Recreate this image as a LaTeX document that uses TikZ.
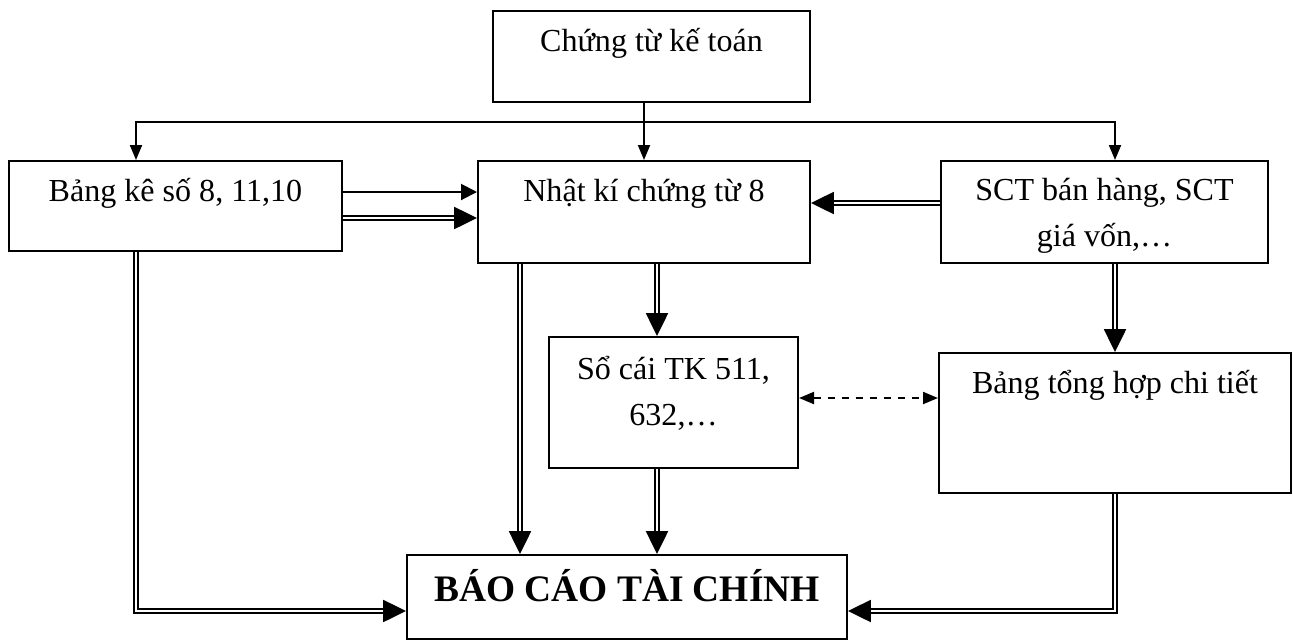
\documentclass[tikz,border=0pt]{standalone}
\usepackage{fontspec}
\setmainfont{Liberation Serif}
\usetikzlibrary{arrows.meta}
\newlength{\pxu}\setlength{\pxu}{0.025cm}

\begin{document}
\begin{tikzpicture}[x=0.025cm, y=-0.025cm,
  font=\fontsize{22.8pt}{32.5pt}\selectfont,
  block/.style={draw, line width=2\pxu, inner sep=0pt, anchor=north west, align=center, text height=40\pxu},
  arr/.style={line width=2\pxu, -{Triangle[length=0.375cm, width=0.3cm]}},
  arrs/.style={line width=2\pxu, -{Triangle[length=0.4cm, width=0.4cm]}},
  dbl/.style={double, line width=1.8\pxu, double distance=2.6\pxu, -{Triangle[length=0.57cm, width=0.55cm]}},
  dsh/.style={line width=2\pxu, dash pattern=on 5pt off 5pt, {Triangle[length=0.375cm, width=0.3cm]}-{Triangle[length=0.375cm, width=0.3cm]}}]

  \useasboundingbox (0,0) rectangle (1293,639);

  % Top
  \node[block, minimum width=317\pxu, text depth=51\pxu] (ct) at (492,10) {Chứng từ kế toán};

  % Second row
  \node[block, minimum width=333\pxu, text depth=50\pxu] (bk) at (8,160) {Bảng kê số 8, 11,10};
  \node[block, minimum width=332\pxu, text depth=62\pxu] (nk) at (477,160) {Nhật kí chứng từ 8};
  \node[block, minimum width=327\pxu, text height=85\pxu, text depth=17\pxu] (sct) at (940,160) {SCT bán hàng, SCT\\giá vốn,…};

  % Third row
  \node[block, minimum width=249\pxu, text height=88\pxu, text depth=43\pxu] (sc) at (548,336) {Sổ cái TK 511,\\632,…};
  \node[block, minimum width=352\pxu, text depth=100\pxu] (bth) at (938,352) {Bảng tổng hợp chi tiết};

  % Bottom
  \node[block, minimum width=440\pxu, text height=46\pxu, text depth=38\pxu, font=\fontsize{26.6pt}{32pt}\selectfont\bfseries] (bc) at (406,554) {BÁO CÁO TÀI CHÍNH};

  % Helper points
  \coordinate (br) at ([yshift=-19\pxu]ct.south);
  \coordinate (bl) at ([xshift=128\pxu]bk.north west);
  \coordinate (h1) at ([yshift=-32\pxu]bk.north east);
  \coordinate (h2) at ([yshift=-58\pxu]bk.north east);
  \coordinate (h3) at ([yshift=-43\pxu]sct.north west);
  \coordinate (v1) at ([xshift=43\pxu]nk.south west);
  \coordinate (v2) at ([xshift=13\pxu]nk.south);
  \coordinate (in) at ([yshift=-57\pxu]bc.north);
  \coordinate (d1) at ([yshift=-62\pxu]sc.north east);

  % Branches from the top box
  \draw[arr] (ct.south -| nk.north) -- (nk.north);
  \draw[arr] (br -| bth.north) -- (br -| bl) -- (bl);
  \draw[arr] (br -| bl) -- (br -| bth.north) -- (sct.north -| bth.north);

  % Horizontal arrows
  \draw[arrs] (h1) -- (h1 -| nk.west);
  \draw[dbl] (h2) -- (h2 -| nk.west);
  \draw[dbl] (h3) -- (h3 -| nk.east);

  % Vertical arrows
  \draw[dbl] (v1) -- (v1 |- bc.north);
  \draw[dbl] (v2) -- (v2 |- sc.north);
  \draw[dbl] (v2 |- sc.south) -- (v2 |- bc.north);
  \draw[dbl] (sct.south -| bth.north) -- (bth.north);

  % Into the report
  \draw[dbl] (bl |- bk.south) -- (bl |- in) -- (in -| bc.west);
  \draw[dbl] (bth.south) -- (bth.south |- in) -- (in -| bc.east);

  % Dashed link
  \draw[dsh] (d1) -- (d1 -| bth.west);

\end{tikzpicture}
\end{document}
